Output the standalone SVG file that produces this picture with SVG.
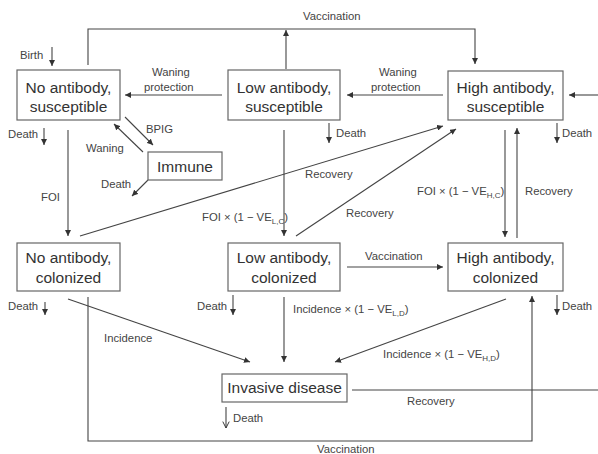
<svg xmlns="http://www.w3.org/2000/svg" width="598" height="454" viewBox="0 0 598 454">
<defs>
<marker id="ah" viewBox="0 0 10 10" refX="10" refY="5" markerWidth="6" markerHeight="6" orient="auto" markerUnits="userSpaceOnUse">
<path d="M0,0 L10,5 L0,10 z" fill="#333"/>
</marker>
<marker id="ao" viewBox="0 0 10 10" refX="9" refY="5" markerWidth="8" markerHeight="8" orient="auto" markerUnits="userSpaceOnUse">
<path d="M1,1 L9,5 L1,9" fill="none" stroke="#333" stroke-width="1.2"/>
</marker>
<style>
.box{fill:#fff;stroke:#666;stroke-width:1.2}
.bt{font-family:"Liberation Sans",Arial,sans-serif;font-size:15.5px;fill:#333;text-anchor:middle}
.lb{font-family:"Liberation Sans",Arial,sans-serif;font-size:11.3px;fill:#444}
.sub{font-size:8px}
.c path{fill:none;stroke:#444;stroke-width:1.1}
.a{marker-end:url(#ah)}
</style>
</defs>
<rect width="598" height="454" fill="#fff"/>

<g id="connectors" class="c">
<path class="a" d="M88,65 V29 H475 V64"/>
<path class="a" d="M286,69 V30"/>
<path class="a" d="M52,47 V66"/>
<path class="a" d="M222,95 H125"/>
<path class="a" d="M443,95 H347"/>
<path class="a" d="M598,95 H569"/>
<path class="a" d="M44,128 V145"/>
<path class="a" d="M329,123 V143"/>
<path class="a" d="M557,123 V143"/>
<path class="a" d="M125,117 L153,145"/>
<path class="a" d="M143,152 L114,124"/>
<path class="a" d="M148,180 L132,196"/>
<path class="a" d="M68,130 V236"/>
<path class="a" d="M284,130 V236"/>
<path class="a" d="M80,236 L443,126"/>
<path class="a" d="M296,236 L456,129"/>
<path class="a" d="M505,130 V237"/>
<path class="a" d="M517,238 V128"/>
<path class="a" d="M347,267 H443"/>
<path class="a" d="M45,302 V315"/>
<path class="a" d="M233,295 V315"/>
<path class="a" d="M557,295 V315"/>
<path class="a" d="M68,299 L250,362"/>
<path class="a" d="M284,297 V362"/>
<path class="a" d="M506,299 L335,362"/>
<path d="M352,390 H598"/>
<path style="marker-end:url(#ao)" d="M226,407 V428"/>
<path class="a" d="M88,297 V441 H532 V296"/>
</g>

<g id="labels" class="lb">
<text x="303" y="20">Vaccination</text>
<text x="20" y="59">Birth</text>
<text x="152" y="76">Waning</text>
<text x="144" y="91">protection</text>
<text x="379" y="76">Waning</text>
<text x="371" y="91">protection</text>
<text x="8" y="138">Death</text>
<text x="336" y="137">Death</text>
<text x="562" y="137">Death</text>
<text x="146" y="133">BPIG</text>
<text x="86" y="152">Waning</text>
<text x="101" y="188">Death</text>
<text x="41" y="201">FOI</text>
<text x="202" y="221">FOI × (1 − VE<tspan class="sub" dy="3">L,C</tspan><tspan dy="-3">)</tspan></text>
<text x="305" y="178">Recovery</text>
<text x="346" y="217">Recovery</text>
<text x="417" y="195">FOI ×  (1 − VE<tspan class="sub" dy="3">H,C</tspan><tspan dy="-3">)</tspan></text>
<text x="525" y="195">Recovery</text>
<text x="365" y="260">Vaccination</text>
<text x="8" y="310">Death</text>
<text x="197" y="310">Death</text>
<text x="562" y="310">Death</text>
<text x="293" y="313">Incidence × (1 − VE<tspan class="sub" dy="3">L,D</tspan><tspan dy="-3">)</tspan></text>
<text x="104" y="342">Incidence</text>
<text x="383" y="358">Incidence ×  (1 − VE<tspan class="sub" dy="3">H,D</tspan><tspan dy="-3">)</tspan></text>
<text x="407" y="405">Recovery</text>
<text x="233" y="422">Death</text>
<text x="317" y="453">Vaccination</text>
</g>

<g id="no-sus">
<rect class="box" x="17" y="70" width="103" height="50"/>
<text class="bt" x="68.5" y="93">No antibody,</text>
<text class="bt" x="68.5" y="112">susceptible</text>
</g>
<g id="low-sus">
<rect class="box" x="228" y="70" width="112" height="50"/>
<text class="bt" x="284" y="93">Low antibody,</text>
<text class="bt" x="284" y="112">susceptible</text>
</g>
<g id="high-sus">
<rect class="box" x="448" y="71" width="115" height="49"/>
<text class="bt" x="505.5" y="93">High antibody,</text>
<text class="bt" x="505.5" y="112">susceptible</text>
</g>
<g id="immune">
<rect class="box" x="148" y="152" width="74" height="28"/>
<text class="bt" x="185" y="172">Immune</text>
</g>
<g id="no-col">
<rect class="box" x="17" y="243" width="103" height="48"/>
<text class="bt" x="68.5" y="263">No antibody,</text>
<text class="bt" x="68.5" y="283">colonized</text>
</g>
<g id="low-col">
<rect class="box" x="228" y="243" width="112" height="48"/>
<text class="bt" x="284" y="263">Low antibody,</text>
<text class="bt" x="284" y="283">colonized</text>
</g>
<g id="high-col">
<rect class="box" x="448" y="243" width="115" height="48"/>
<text class="bt" x="505.5" y="263">High antibody,</text>
<text class="bt" x="505.5" y="283">colonized</text>
</g>
<g id="invasive">
<rect class="box" x="222" y="374" width="125" height="28"/>
<text class="bt" x="284.5" y="393">Invasive disease</text>
</g>
</svg>
